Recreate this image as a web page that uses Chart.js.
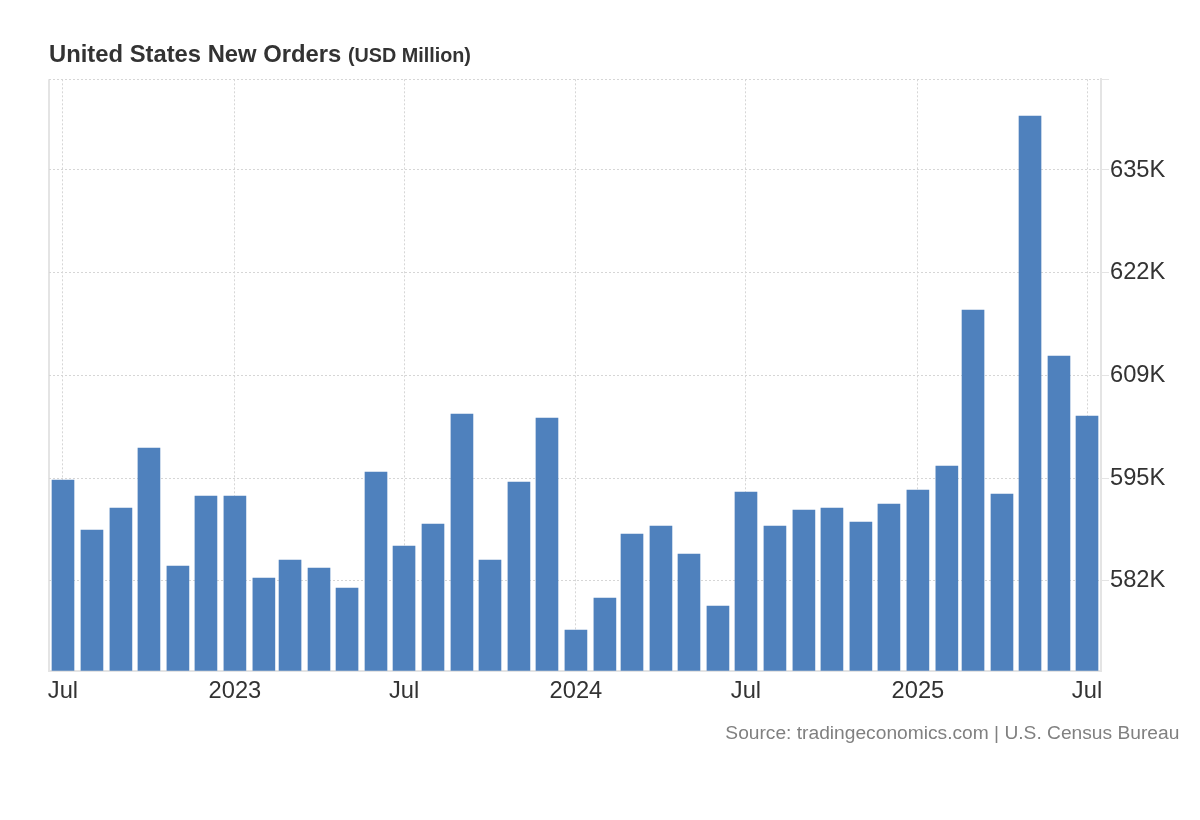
<!DOCTYPE html>
<html>
<head>
<meta charset="utf-8">
<title>United States New Orders</title>
<script src="https://cdn.jsdelivr.net/npm/chart.js@4"></script>
<style>
  html, body { margin: 0; padding: 0; background: #fff; }
  #wrap { position: relative; width: 1200px; height: 820px; }
  #chart { position: absolute; left: 0; top: 0; }
  .title {
    position: absolute; left: 49px; top: 41.5px;
    font-family: "Liberation Sans", Arial, sans-serif;
    font-weight: bold; font-size: 23.8px; line-height: 1; color: #333;
    white-space: nowrap;
  }
  .title small { font-size: 19.8px; }
  .source {
    position: absolute; right: 20.7px; top: 722.7px;
    font-family: "Liberation Sans", Arial, sans-serif;
    font-size: 19.2px; line-height: 1; color: #808080;
    white-space: nowrap;
  }
</style>
</head>
<body>
<div id="wrap">
  <canvas id="chart" width="1200" height="820"></canvas>
  <div class="title">United States New Orders <small>(USD Million)</small></div>
  <div class="source">Source: tradingeconomics.com | U.S. Census Bureau</div>
</div>
<script>
// monthly new orders, USD million
const months = [
    '2022-07', '2022-08', '2022-09', '2022-10', '2022-11', '2022-12',
    '2023-01', '2023-02', '2023-03', '2023-04', '2023-05', '2023-06',
    '2023-07', '2023-08', '2023-09', '2023-10', '2023-11', '2023-12',
    '2024-01', '2024-02', '2024-03', '2024-04', '2024-05', '2024-06',
    '2024-07', '2024-08', '2024-09', '2024-10', '2024-11', '2024-12',
    '2025-01', '2025-02', '2025-03', '2025-04', '2025-05', '2025-06',
    '2025-07'
];
const newOrders = [
    595000, 588540, 591380, 599130, 583900, 592930,
    592930, 582350, 584670, 583640, 581060, 596030,
    586480, 589320, 603510, 584670, 594740, 603000,
    575640, 579770, 588030, 589060, 585450, 578740,
    593450, 589060, 591120, 591380, 589580, 591900,
    593700, 596800, 616930, 593190, 641970, 611000,
    603250
];

// axis ticks
const xTickMonths = ['2022-07', '2023-01', '2023-07', '2024-01', '2024-07', '2025-01', '2025-07'];
const xTickLabels = ['Jul', '2023', 'Jul', '2024', 'Jul', '2025', 'Jul'];
const yTickValues = [582000, 595250, 608500, 621750, 635000];
const yTickLabels = ['582K', '595K', '609K', '622K', '635K'];

// value range shown on the y axis
const yMin = 570390;
const yMax = 646700;

// months -> days since the first month (so spacing follows the calendar)
const origin = Date.UTC(2022, 6, 1);
function monthToDay(m) {
    const [y, mo] = m.split('-').map(Number);
    return Math.round((Date.UTC(y, mo - 1, 1) - origin) / 86400000);
}
const lastDay = monthToDay(months[months.length - 1]);
const xMin = -14.98;
const xMax = lastDay + 14.98;
const xTickDays = xTickMonths.map(monthToDay);

const gridColor = '#d6d6d6';
const axisColor = '#e4e4e4';
const tickFont = { family: "'Liberation Sans', Arial, sans-serif", size: 23.7 };

const chartData = months.map((m, i) => ({ x: monthToDay(m), y: newOrders[i] }));

new Chart(document.getElementById('chart').getContext('2d'), {
    type: 'bar',
    data: {
        datasets: [{
            label: 'New Orders',
            data: chartData,
            backgroundColor: '#4f81bd',
            borderWidth: 0,
            barThickness: 22
        }]
    },
    options: {
        responsive: false,
        animation: false,
        layout: { padding: { left: 49, top: 79.3, right: 0, bottom: 0 } },
        plugins: {
            legend: { display: false },
            tooltip: { enabled: false }
        },
        scales: {
            x: {
                type: 'linear',
                min: xMin,
                max: xMax,
                offset: false,
                afterBuildTicks: scale => {
                    scale.ticks = [xMin].concat(xTickDays).map(v => ({ value: v }));
                },
                afterFit: scale => { scale.height = 820 - 670.7; },
                ticks: {
                    autoSkip: false,
                    maxRotation: 0,
                    padding: 7,
                    color: '#333',
                    font: tickFont,
                    callback: value => {
                        const i = xTickDays.indexOf(value);
                        return i >= 0 ? xTickLabels[i] : '';
                    }
                },
                grid: {
                    offset: false,
                    drawTicks: false,
                    // the tick at the left edge doubles as the solid frame line
                    color: c => (c.tick && c.tick.value === xMin ? axisColor : gridColor),
                    lineWidth: c => (c.tick && c.tick.value === xMin ? 2 : 1)
                },
                border: {
                    display: true,
                    color: axisColor,
                    width: 2,
                    dash: c => (c.tick && c.tick.value === xMin ? [] : [2, 2])
                }
            },
            y: {
                type: 'linear',
                position: 'right',
                min: yMin,
                max: yMax,
                beginAtZero: false,
                afterBuildTicks: scale => {
                    scale.ticks = yTickValues.concat([yMax]).map(v => ({ value: v }));
                },
                afterFit: scale => { scale.width = 1200 - 1101; },
                ticks: {
                    padding: 1,
                    color: '#333',
                    font: tickFont,
                    callback: value => {
                        const i = yTickValues.indexOf(value);
                        return i >= 0 ? yTickLabels[i] : '';
                    }
                },
                grid: {
                    color: gridColor,
                    lineWidth: 1,
                    drawTicks: true,
                    tickLength: 8,
                    tickColor: axisColor,
                    tickBorderDash: []
                },
                border: {
                    display: true,
                    color: axisColor,
                    width: 2,
                    dash: [2, 2]
                }
            }
        }
    }
});
</script>
</body>
</html>
